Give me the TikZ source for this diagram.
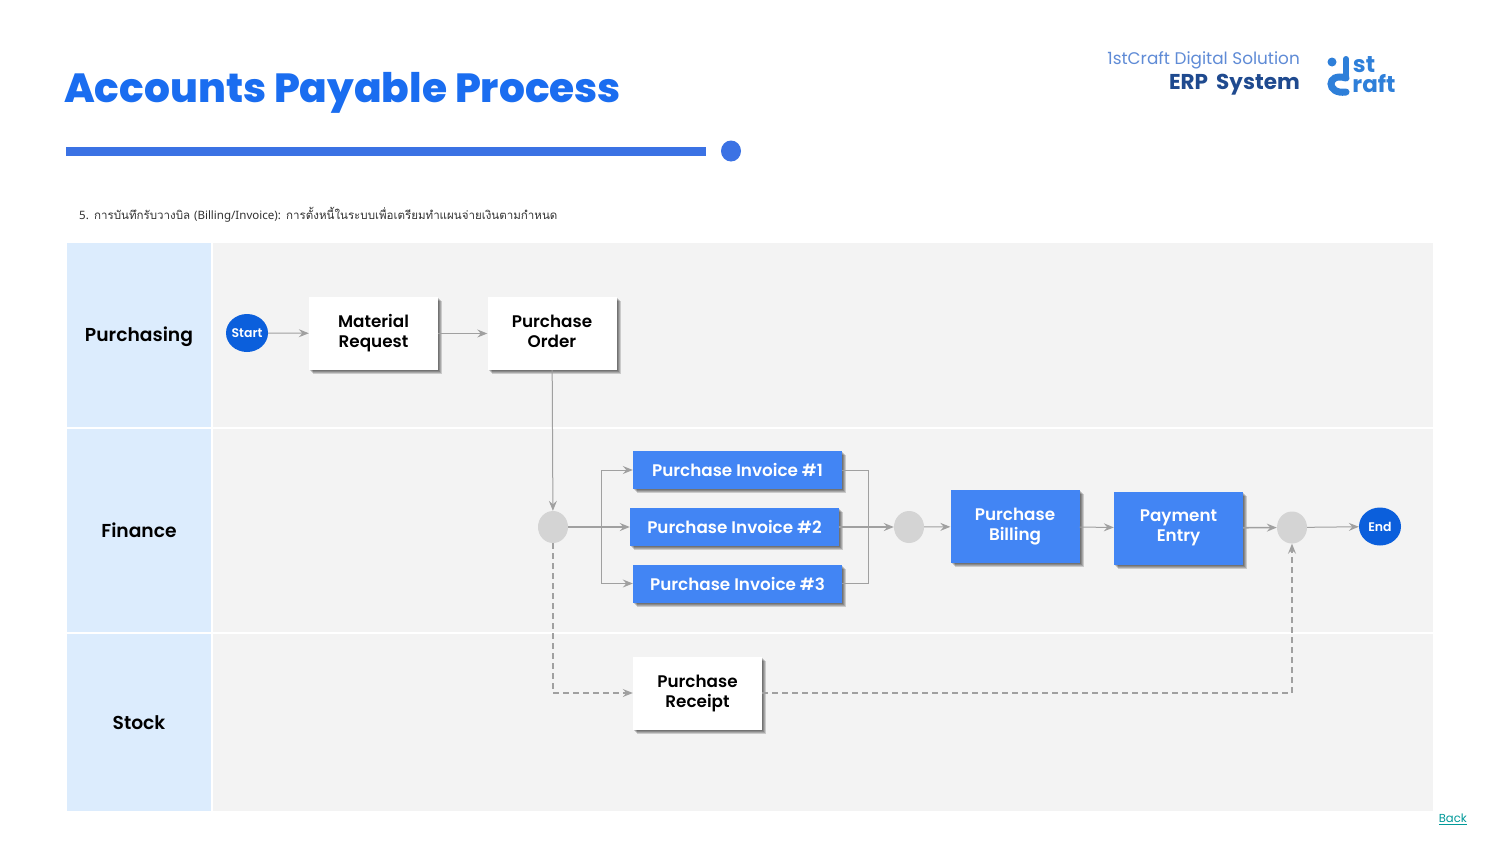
\documentclass[tikz,border=0pt]{standalone}
\usepackage{fontspec}
\setmainfont{Poppins}
\newfontfamily\medfont{Poppins Medium}
\newfontfamily\semifont{Poppins SemiBold}
\newfontfamily\heavyfont{Poppins ExtraBold}
\newfontfamily\thaifont[Script=Thai]{Loma}
\newfontfamily\notefont{Noto Sans}
\usepackage{tikz}
\usetikzlibrary{arrows.meta,shadows,shapes.geometric}
\definecolor{titleblue}{HTML}{1A6DF0}
\definecolor{barblue}{HTML}{3B72E4}
\definecolor{laneblue}{HTML}{DCECFD}
\definecolor{lanegray}{HTML}{F3F3F3}
\definecolor{taskblue}{HTML}{4285F4}
\definecolor{endblue}{HTML}{0B5FDC}
\definecolor{gatewaygray}{HTML}{D4D4D4}
\definecolor{linegray}{HTML}{A0A0A0}
\definecolor{logoblue}{HTML}{2E7FD9}
\definecolor{companyblue}{HTML}{5F8BD6}
\definecolor{systemblue}{HTML}{1F4A8F}
\newcommand{\boxstrut}{\rule[-4pt]{0pt}{21pt}}
\tikzset{
  softshadow/.style={drop shadow={shadow xshift=#1pt,shadow yshift=-#1pt,fill=black,opacity=0.17}},
  boxshadow/.style={softshadow=4,softshadow=3,softshadow=2,softshadow=1},
  whitebox/.style={rectangle,fill=white,minimum width=129pt,minimum height=73pt,inner sep=0pt,boxshadow,
    align=center,text=black,font=\semifont\fontsize{16.8}{20}\selectfont,
    execute at begin node=\boxstrut,execute at end node=\boxstrut},
  bluebox/.style={whitebox,fill=taskblue,text=white},
  invoicebox/.style={bluebox,minimum width=209pt,minimum height=38pt},
  terminal/.style={ellipse,fill=endblue,minimum width=42pt,minimum height=38pt,inner sep=-4pt,
    text=white,font=\semifont\fontsize{12.5}{14}\selectfont},
  gateway/.style={ellipse,fill=gatewaygray,minimum width=30pt,minimum height=32pt,inner sep=0pt},
  lanelabel/.style={text=black,font=\semifont\fontsize{18.7}{22}\selectfont},
  flow/.style={draw=linegray,line width=1pt,-{Stealth[length=10pt,width=8pt,inset=3.5pt]}},
  thickflow/.style={flow,line width=1.6pt},
  plainflow/.style={draw=linegray,line width=1pt},
  dashflow/.style={flow,line width=1.1pt,dash pattern=on 6pt off 4pt},
}
\begin{document}
\begin{tikzpicture}[x=1pt,y=-1pt]
\useasboundingbox (0,0) rectangle (1500,844);
\fill[white] (0,0) rectangle (1500,844);
%header%
\node[anchor=west,inner sep=0pt,text=titleblue,font=\heavyfont\fontsize{40.7}{46}\selectfont] (title) at (64,93) {Accounts Payable Process};
\fill[barblue] (66,147) rectangle (706,156);
\fill[barblue] (731,151) ellipse (10 and 10.5);
\node[anchor=east,inner sep=0pt,text=companyblue,font=\fontsize{16.85}{20}\selectfont] (company) at (1300,60) {1stCraft Digital Solution};
\node[anchor=east,inner sep=0pt,text=systemblue,font=\bfseries\fontsize{21.5}{24}\selectfont] (system) at (1300,85) {ERP\, System};
%logo%
\fill[logoblue] (1332,62) circle (4.5);
\draw[logoblue,line width=6pt,line cap=round] (1346,59) -- (1346,78);
\draw[logoblue,line width=7pt,line cap=round] (1346,78) .. controls (1326,72) and (1326,95) .. (1346,92);
\node[inner sep=0pt,text=logoblue,font=\bfseries\fontsize{23}{24}\selectfont] (logost) at (1364,65) {st};
\node[inner sep=0pt,text=logoblue,font=\bfseries\fontsize{23}{24}\selectfont] (lograft) at (1374,84) {raft};
%note%
\node[anchor=west,inner sep=0pt,text=black!80,font=\thaifont\fontsize{11.55}{14}\selectfont] (note) at (79,215) {{\notefont 5.} การบันทึกรับวางบิล {\notefont (Billing/Invoice):} การตั้งหนี้ในระบบเพื่อเตรียมทำแผนจ่ายเงินตามกำหนด};
%lanes%
\fill[laneblue] (67,243) rectangle (211,427);
\fill[laneblue] (67,429) rectangle (211,632);
\fill[laneblue] (67,634) rectangle (211,811);
\fill[lanegray] (213,243) rectangle (1433,427);
\fill[lanegray] (213,429) rectangle (1433,632);
\fill[lanegray] (213,634) rectangle (1433,811);
\node[lanelabel] (purchasing) at (139,337) {Purchasing};
\node[lanelabel] (finance) at (139,530) {Finance};
\node[lanelabel] (stock) at (139,723) {Stock};
%nodes%
\node[terminal] (start) at (247,333) {Start};
\node[whitebox] (mr) at (373.5,333.5) {Material\\Request};
\node[whitebox] (po) at (552,333.5) {Purchase\\Order};
\node[gateway] (gwa) at (553,527) {};
\node[invoicebox] (pia) at (737.5,470) {Purchase Invoice \#1};
\node[invoicebox] (pib) at (734.5,527) {Purchase Invoice \#2};
\node[invoicebox] (pic) at (737.5,583.5) {Purchase Invoice \#3};
\node[gateway] (gwb) at (909,527) {};
\node[bluebox] (pb) at (1015,526.5) {Purchase\\Billing};
\node[bluebox] (pe) at (1178.5,528) {Payment\\Entry};
\node[gateway] (gwc) at (1292,527.5) {};
\node[terminal] (end) at (1380,526.5) {End};
\node[whitebox] (pr) at (697.5,693) {Purchase\\Receipt};
\coordinate (split) at (601,527);
\coordinate (merge) at (868,527);
%arrows%
\draw[flow] (start) -- (mr);
\draw[flow] (mr) -- (po);
\draw[flow] (po) -- (gwa);
\draw[thickflow] (gwa) -- (pib);
\draw[flow] (split) |- (pia);
\draw[flow] (split) |- (pic);
\draw[plainflow] (pia) -| (merge);
\draw[plainflow] (pic) -| (merge);
\draw[thickflow] (pib) -- (gwb);
\draw[flow] (gwb) -- (pb);
\draw[flow] (pb) -- (pe);
\draw[thickflow] (pe) -- (gwc);
\draw[flow] (gwc) -- (end);
\draw[dashflow] (gwa) |- (pr);
\draw[dashflow] (pr) -| (gwc);
%back link%
\node[anchor=east,inner sep=0pt,text=teal!80!cyan,font=\fontsize{11.6}{14}\selectfont] (back) at (1467,819) {\underline{Back}};
\end{tikzpicture}
\end{document}
